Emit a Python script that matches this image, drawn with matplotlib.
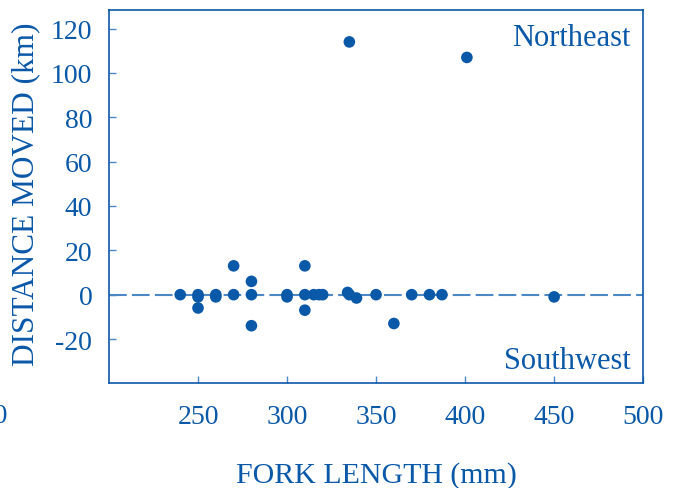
import numpy as np
import matplotlib
matplotlib.use('Agg')
import matplotlib.pyplot as plt

# fork length (mm) and distance moved (km)
fork_length = [240, 250, 250, 250, 260, 260, 270, 270, 280, 280, 280,
               300, 300, 310, 310, 310, 315, 318, 320, 334, 335, 339,
               335, 350, 360, 370, 380, 387, 401, 450]
distance = [0, 0, -1, -6, 0, -1, 13, 0, 6, 0, -14,
            0, -1, 13, 0, -7, 0, 0, 0, 1, 0, -1.5,
            114, 0, -13, 0, 0, 0, 107, -1]
x_ticks = [250, 300, 350, 400, 450, 500]
y_ticks = [-20, 0, 20, 40, 60, 80, 100, 120]

blue = '#0a58a8'
line_blue = '#4d88c6'

plt.rcParams['font.family'] = ['Liberation Serif', 'DejaVu Serif']
plt.rcParams['axes.unicode_minus'] = False

fig = plt.figure(figsize=(6.77, 4.89), dpi=100)
ax = fig.add_axes([0.161, 0.214, 0.789, 0.764])

ax.axhline(0, color=line_blue, lw=1.5, linestyle=(0, (8.5, 2.5)), zorder=1)
ax.scatter(fork_length, distance, s=70, color=blue, edgecolors='none', zorder=3)

ax.set_xlim(200, 500)
ax.set_ylim(-40, 128.5)
ax.set_xticks(x_ticks)
ax.set_yticks(y_ticks)
ax.tick_params(direction='in', length=5, width=1, color=line_blue,
               labelcolor=blue, labelsize=20)
ax.tick_params(axis='x', pad=15)
ax.tick_params(axis='y', pad=12)
for s in ax.spines.values():
    s.set_color(blue)
    s.set_linewidth(1.2)

ax.set_xlabel('FORK LENGTH (mm)', color=blue, fontsize=21.5)
ax.set_ylabel('DISTANCE MOVED (km)', color=blue, fontsize=22.5)
ax.xaxis.set_label_coords(0.5, -0.208)
ax.yaxis.set_label_coords(-0.128, 0.51)

ax.text(0.976, 0.906, 'Northeast', transform=ax.transAxes, ha='right', va='baseline',
        color=blue, fontsize=22)
ax.text(0.976, 0.041, 'Southwest', transform=ax.transAxes, ha='right', va='baseline',
        color=blue, fontsize=22)

# stray "200" label at the far left, mostly off the canvas
fig.text(8 / 677, 1 - 417 / 489, '200', ha='right', va='center', color=blue, fontsize=20)

fig.savefig('out.png', dpi=100)
